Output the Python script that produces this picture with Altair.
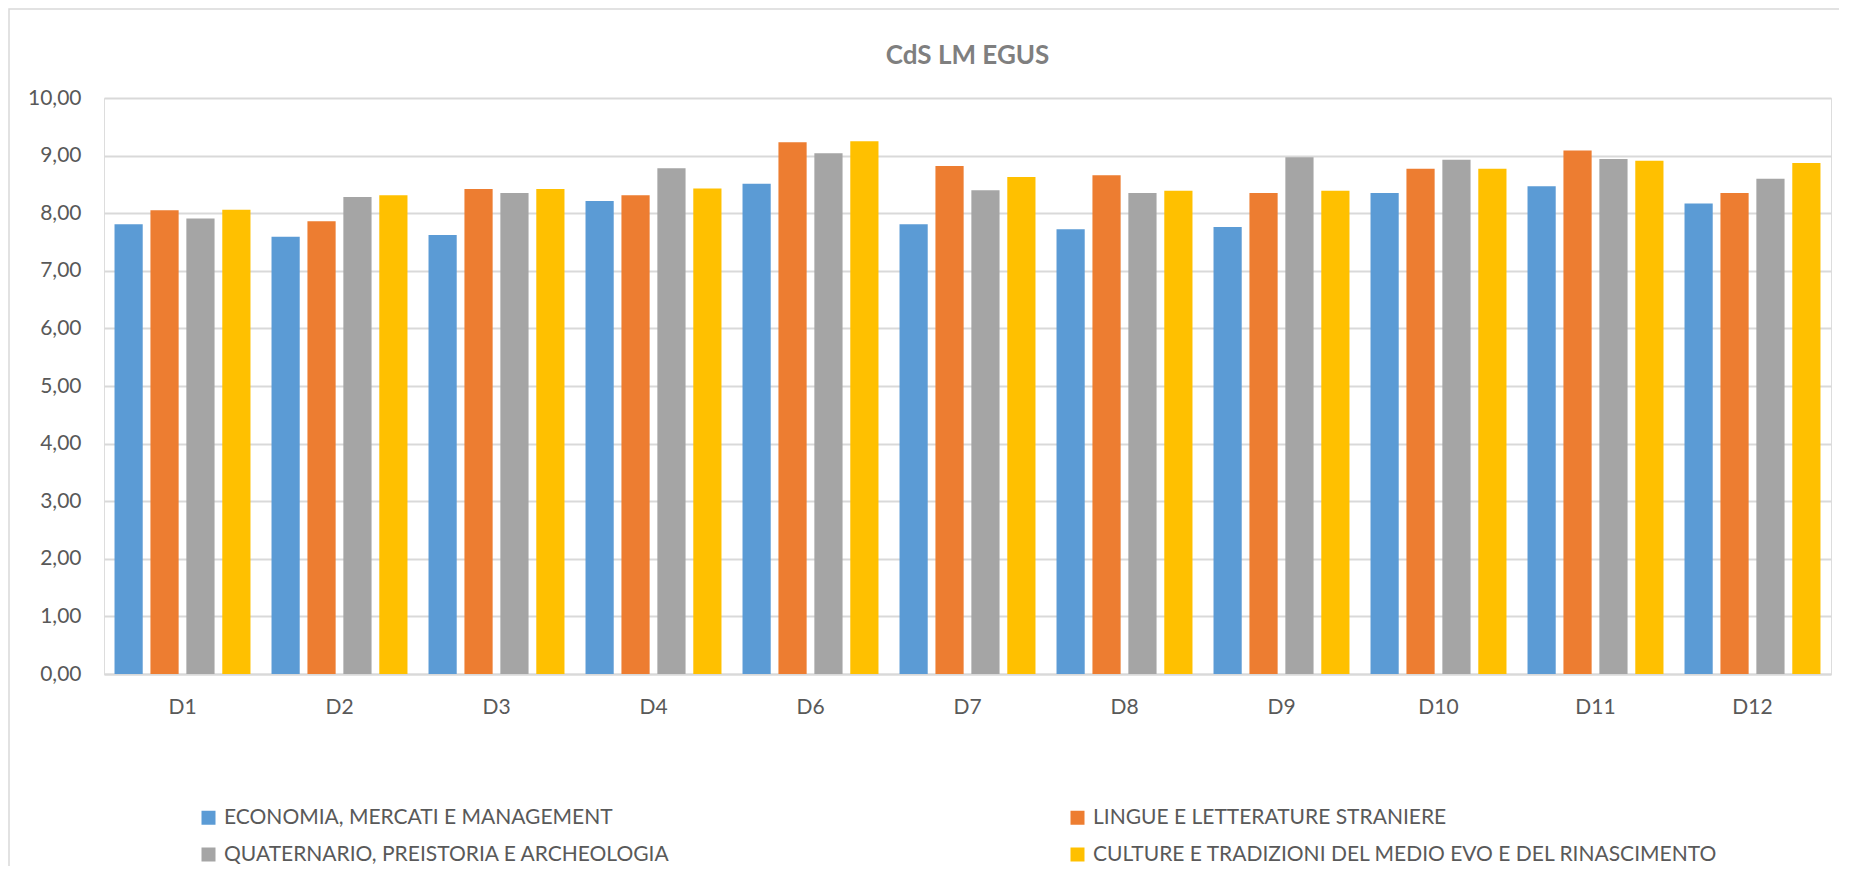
import altair as alt
import pandas as pd

categories = ["D1", "D2", "D3", "D4", "D6", "D7", "D8", "D9", "D10", "D11", "D12"]
series_names = [
    "ECONOMIA, MERCATI E MANAGEMENT",
    "LINGUE E LETTERATURE STRANIERE",
    "QUATERNARIO, PREISTORIA E ARCHEOLOGIA",
    "CULTURE E TRADIZIONI DEL MEDIO EVO E DEL RINASCIMENTO",
]
economia = [7.81, 7.59, 7.62, 8.21, 8.51, 7.81, 7.72, 7.76, 8.35, 8.47, 8.17]
lingue = [8.05, 7.86, 8.42, 8.31, 9.23, 8.82, 8.66, 8.35, 8.77, 9.09, 8.35]
quaternario = [7.91, 8.28, 8.35, 8.78, 9.04, 8.40, 8.35, 8.97, 8.93, 8.94, 8.60]
culture = [8.06, 8.31, 8.42, 8.43, 9.25, 8.63, 8.39, 8.39, 8.77, 8.91, 8.87]
colors = ["#5B9BD5", "#ED7D31", "#A5A5A5", "#FFC000"]
title_text = "CdS LM EGUS"

rows = []
for name, vals in zip(series_names, [economia, lingue, quaternario, culture]):
    for c, v in zip(categories, vals):
        rows.append({"cat": c, "serie": name, "val": v})
df = pd.DataFrame(rows)

# legend fills column-major: reorder so that rows read as in the reference
legend_order = [series_names[0], series_names[2], series_names[1], series_names[3]]
legend_colors = [colors[0], colors[2], colors[1], colors[3]]

FONT = "Lato"
W, H = 1727, 576

frame = alt.Chart(pd.DataFrame({"a": [0]})).mark_rect(
    fill=None, stroke="#d9d9d9", strokeWidth=1.5
).encode(
    x=alt.value(-95), x2=alt.value(1800), y=alt.value(-89), y2=alt.value(900)
)

title = alt.Chart(pd.DataFrame({"t": [title_text]})).mark_text(
    font=FONT, fontSize=26, fontWeight="bold", color="#7f7f7f",
    align="center", baseline="alphabetic"
).encode(x=alt.value(W / 2), y=alt.value(-34), text="t:N")

bars = alt.Chart(df).mark_bar().encode(
    x=alt.X("cat:N", sort=categories, title=None,
            scale=alt.Scale(paddingInner=0.134, paddingOuter=0.067),
            axis=alt.Axis(labelAngle=0, ticks=False, domainColor="#d9d9d9",
                          domainWidth=2, labelPadding=22, labelFontSize=21,
                          labelColor="#595959", labelFont=FONT)),
    xOffset=alt.XOffset("serie:N", sort=series_names,
                        scale=alt.Scale(paddingInner=0.215, paddingOuter=0)),
    y=alt.Y("val:Q", title=None,
            scale=alt.Scale(domain=[0, 10], nice=False),
            axis=alt.Axis(values=list(range(0, 11)), ticks=False, domain=False,
                          gridColor="#d9d9d9", gridWidth=1.8,
                          labelExpr="replace(format(datum.value, '.2f'), '.', ',')",
                          labelPadding=23, labelFontSize=21, labelColor="#595959",
                          labelFont=FONT)),
    color=alt.Color("serie:N",
                    scale=alt.Scale(domain=legend_order, range=legend_colors),
                    legend=alt.Legend(title=None, orient="none", legendX=94, legendY=709,
                                      columns=2, columnPadding=396, rowPadding=15,
                                      symbolType="square", symbolSize=196,
                                      symbolStrokeWidth=0, labelFontSize=21,
                                      labelOffset=5,
                                      labelColor="#595959", labelFont=FONT,
                                      labelLimit=0, gridAlign="each")),
)

chart = alt.layer(frame, bars, title).properties(
    width=W, height=H,
    autosize=alt.AutoSizeParams(type="none"),
    padding={"left": 96, "top": 90, "right": 8, "bottom": 192},
).configure_view(stroke=None).configure(background="white")

chart.save("out.html", embed_options={"renderer": "svg", "actions": False})
